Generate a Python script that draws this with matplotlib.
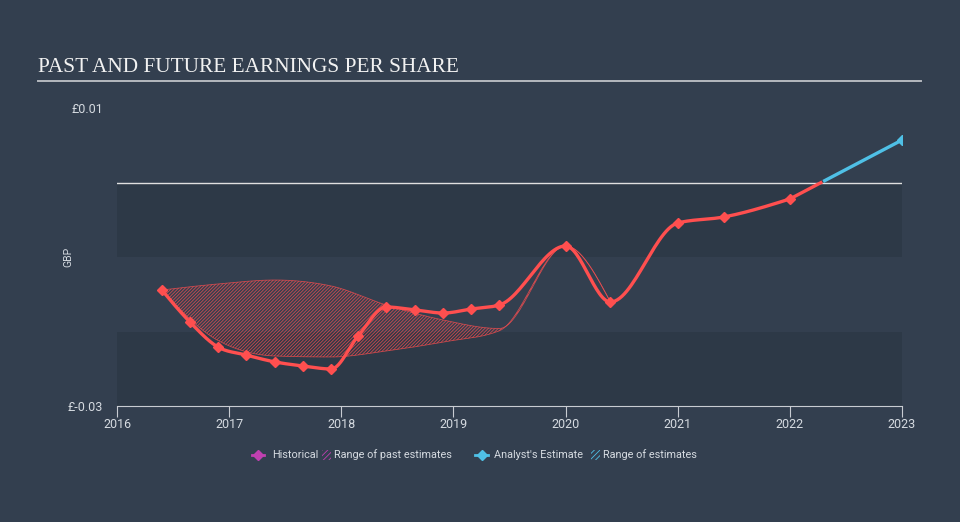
import numpy as np
import matplotlib.pyplot as plt
from matplotlib.lines import Line2D
from matplotlib.patches import Rectangle

# historical EPS (GBP)
hist_x = [2016.40, 2016.65, 2016.90, 2017.15, 2017.41, 2017.66, 2017.91, 2018.15, 2018.40,
          2018.66, 2018.91, 2019.16, 2019.41, 2020.00, 2020.40, 2021.00, 2021.41, 2022.00]
hist_y = [-0.01443, -0.01872, -0.02208, -0.02315, -0.02409, -0.02463, -0.02503, -0.02060, -0.01671,
          -0.01711, -0.01752, -0.01698, -0.01644, -0.00852, -0.01604, -0.00544, -0.00463, -0.00221]

# range of past estimates
rng_x = [2016.40, 2016.90, 2017.41, 2017.91, 2018.40, 2018.91, 2019.41, 2020.00, 2020.40]
rng_hi = [-0.01443, -0.01362, -0.01309, -0.01389, -0.01644, -0.01846, -0.01960, -0.00852, -0.01604]
rng_lo = [-0.01443, -0.02120, -0.02329, -0.02342, -0.02262, -0.02141, -0.01990, -0.00852, -0.01604]

# analyst estimate
est_x = [2022.00, 2023.00]
est_y = [-0.00221, 0.00570]

years = list(range(2016, 2024))
ytick_vals = [0.01, -0.03]
ytick_labels = ['£0.01', '£-0.03']

BG = '#333f4f'
BAND = '#2d3947'
RED = '#ff4f4f'
BLUE = '#4fc0e6'
TXT = '#d6dbe1'
SANS = ['Roboto', 'DejaVu Sans']


def monotone(x, y, n=30):
    # d3 style monotone-x curve, only for drawing
    x = np.asarray(x, float)
    y = np.asarray(y, float)
    h = np.diff(x)
    s = np.diff(y) / h
    m = np.zeros_like(x)
    for k in range(1, len(x) - 1):
        p = (s[k - 1] * h[k] + s[k] * h[k - 1]) / (h[k - 1] + h[k])
        m[k] = (np.sign(s[k - 1]) + np.sign(s[k])) * min(abs(s[k - 1]), abs(s[k]), 0.5 * abs(p))
    if len(x) > 2:
        m[0] = (3 * s[0] - m[1]) / 2
        m[-1] = (3 * s[-1] - m[-2]) / 2
    else:
        m[:] = s[0]
    xs, ys = [], []
    for k in range(len(x) - 1):
        t = np.linspace(0, 1, n)
        h00 = 2 * t**3 - 3 * t**2 + 1
        h10 = t**3 - 2 * t**2 + t
        h01 = -2 * t**3 + 3 * t**2
        h11 = t**3 - t**2
        xs.append(x[k] + t * h[k])
        ys.append(h00 * y[k] + h10 * h[k] * m[k] + h01 * y[k + 1] + h11 * h[k] * m[k + 1])
    return np.concatenate(xs), np.concatenate(ys)


plt.rcParams['hatch.linewidth'] = 0.6
fig = plt.figure(figsize=(9.6, 5.22), dpi=100, facecolor=BG)
W, H = 960, 522
ax = fig.add_axes([117 / W, 1 - 406 / H, (902 - 117) / W, (406 - 108) / H])
ax.set_facecolor(BG)
ax.set_xlim(2016, 2023)
ax.set_ylim(-0.03, 0.01)

ax.axhspan(-0.01, 0, color=BAND, lw=0, zorder=0)
ax.axhspan(-0.03, -0.02, color=BAND, lw=0, zorder=0)
ax.axhline(0, color='#e0e0e0', lw=1, zorder=1)

# range of past estimates
rx, rh = monotone(rng_x, rng_hi)
_, rl = monotone(rng_x, rng_lo)
ax.fill_between(rx, rl, rh, facecolor='none', edgecolor=RED, hatch='//////////', lw=0, alpha=0.75, zorder=2)
ax.plot(rx, rh, color=RED, lw=0.6, alpha=0.7, zorder=2)
ax.plot(rx, rl, color=RED, lw=0.6, alpha=0.7, zorder=2)

# historical line
hx, hy = monotone(hist_x, hist_y)
ax.plot(hx, hy, color=RED, lw=2.4, zorder=3, solid_capstyle='round')
ax.plot(hist_x, hist_y, ls='none', marker='D', ms=5.5, color=RED, zorder=4)

# estimate line: red below zero, blue above
ex, ey = monotone(est_x, est_y)
ax.plot(ex, np.where(ey <= 0, ey, np.nan), color=RED, lw=2.4, zorder=3)
ax.plot(ex, np.where(ey >= 0, ey, np.nan), color=BLUE, lw=2.4, zorder=3)
ax.plot(est_x[-1:], est_y[-1:], ls='none', marker='D', ms=5.5, color=BLUE, zorder=4)

for sp in ['top', 'right', 'left']:
    ax.spines[sp].set_visible(False)
ax.spines['bottom'].set_color('#c8ccd2')
ax.spines['bottom'].set_linewidth(0.8)
ax.set_xticks(years)
ax.set_xticklabels([str(y) for y in years], color=TXT, fontsize=9, family=SANS)
ax.tick_params(axis='x', colors='#c8ccd2', length=8, width=0.8, pad=1, labelcolor=TXT)
ax.set_yticks(ytick_vals)
ax.set_yticklabels(ytick_labels, color=TXT, fontsize=9, family=SANS)
ax.tick_params(axis='y', length=0, pad=10)
ax.set_ylabel('GBP', color=TXT, fontsize=7.5, family=SANS)
ax.yaxis.set_label_coords((73 - 117) / 785, 0.5)

# title
fig.text(38 / W, 1 - 67 / H, 'PAST AND FUTURE EARNINGS PER SHARE', color='#f2f2f2',
         fontsize=15.3, family=['Liberation Serif', 'DejaVu Serif'], va='center', ha='left')
fig.add_artist(Line2D([38 / W, 921 / W], [1 - 81 / H] * 2, color='#b5b9bf', lw=1.4))

# legend
ly = 1 - 455 / H
lfont = dict(color=TXT, fontsize=7.8, family=SANS, va='center', ha='left')
fig.add_artist(Line2D([252 / W, 264 / W], [ly, ly], color='#c040b0', lw=2))
fig.add_artist(Line2D([258 / W], [ly], marker='D', ms=5, color='#c040b0', ls='none'))
fig.text(272 / W, ly, 'Historical', **lfont)
fig.add_artist(Rectangle((322 / W, ly - 5 / H), 9 / W, 10 / H, facecolor='none',
                         edgecolor='#c040b0', hatch='//////', lw=0))
fig.text(334 / W, ly, 'Range of past estimates', **lfont)
fig.add_artist(Line2D([475 / W, 488 / W], [ly, ly], color=BLUE, lw=2))
fig.add_artist(Line2D([481.5 / W], [ly], marker='D', ms=5, color=BLUE, ls='none'))
fig.text(494 / W, ly, "Analyst's Estimate", **lfont)
fig.add_artist(Rectangle((591 / W, ly - 5 / H), 9 / W, 10 / H, facecolor='none',
                         edgecolor=BLUE, hatch='//////', lw=0))
fig.text(603 / W, ly, 'Range of estimates', **lfont)

fig.savefig('out.png', dpi=100, facecolor=BG)
